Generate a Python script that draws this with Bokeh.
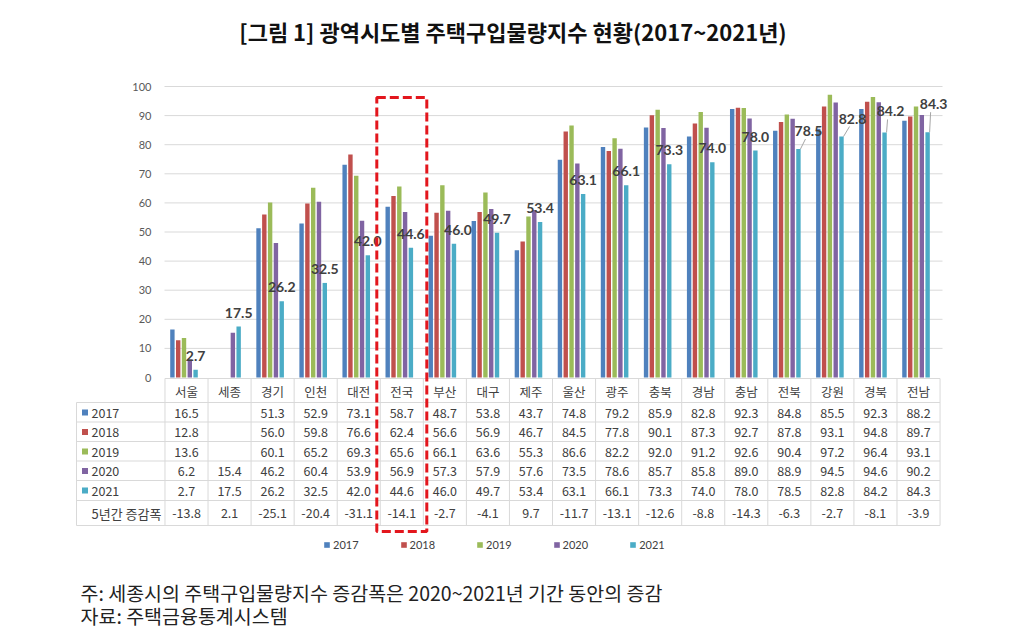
import math
from bokeh.plotting import figure
from bokeh.models import Range1d, Legend, LegendItem, ColumnDataSource
from bokeh.core.properties import value
from bokeh.embed import file_html
from bokeh.resources import INLINE

# ---------------- data ----------------
regions = ["서울", "세종", "경기", "인천", "대전", "전국", "부산", "대구", "제주",
           "울산", "광주", "충북", "경남", "충남", "전북", "강원", "경북", "전남"]
years = ["2017", "2018", "2019", "2020", "2021"]
v2017 = [16.5, None, 51.3, 52.9, 73.1, 58.7, 48.7, 53.8, 43.7, 74.8, 79.2, 85.9, 82.8, 92.3, 84.8, 85.5, 92.3, 88.2]
v2018 = [12.8, None, 56.0, 59.8, 76.6, 62.4, 56.6, 56.9, 46.7, 84.5, 77.8, 90.1, 87.3, 92.7, 87.8, 93.1, 94.8, 89.7]
v2019 = [13.6, None, 60.1, 65.2, 69.3, 65.6, 66.1, 63.6, 55.3, 86.6, 82.2, 92.0, 91.2, 92.6, 90.4, 97.2, 96.4, 93.1]
v2020 = [6.2, 15.4, 46.2, 60.4, 53.9, 56.9, 57.3, 57.9, 57.6, 73.5, 78.6, 85.7, 85.8, 89.0, 88.9, 94.5, 94.6, 90.2]
v2021 = [2.7, 17.5, 26.2, 32.5, 42.0, 44.6, 46.0, 49.7, 53.4, 63.1, 66.1, 73.3, 74.0, 78.0, 78.5, 82.8, 84.2, 84.3]
change_5y = [-13.8, 2.1, -25.1, -20.4, -31.1, -14.1, -2.7, -4.1, 9.7, -11.7, -13.1, -12.6, -8.8, -14.3, -6.3, -2.7, -8.1, -3.9]
change_label = "5년간 증감폭"
highlight = "전국"
y_ticks = [0, 10, 20, 30, 40, 50, 60, 70, 80, 90, 100]
title_text = "[그림 1]  광역시도별 주택구입물량지수 현황(2017~2021년)"
note_lines = ["주: 세종시의 주택구입물량지수 증감폭은 2020~2021년 기간 동안의 증감",
              "자료: 주택금융통계시스템"]
series = [v2017, v2018, v2019, v2020, v2021]

# ---------------- style ----------------
colors = ["#4F81BD", "#C0504D", "#9BBB59", "#8064A2", "#4BACC6"]
KR = value("Noto Sans CJK KR")
LAT = value("Lato")
GRID = "#D9D9D9"
TXT = "#404040"
# label placement offsets (px) relative to the 2021 bar
lbl_dx = [0, 0, 0, 0, 0, 0, 4, 0, 0, 0, 0, 0, 0, 0, 10, 11, 6, 6]
lbl_dy = [14, 14, 14, 14, 14, 14, 14, 14, 14, 14, 14, 14, 14, 14, 18, 18, 21, 28]
leader = [False] * 14 + [True] * 4

W, H = 1024, 644
X0, DXP = 186.0, 43.06      # px of first category, px per category
Y0, DYP = 377.0, 2.91       # px of value 0, px per unit


def xd(px):
    return (px - X0) / DXP


def yd(py):
    return (Y0 - py) / DYP


p = figure(width=W, height=H, x_range=Range1d(xd(0), xd(W)), y_range=Range1d(yd(H), yd(0)),
           output_backend="svg", toolbar_location=None, x_axis_type=None, y_axis_type=None,
           min_border=0)
p.outline_line_color = None
p.background_fill_color = "white"
p.border_fill_color = "white"

n = len(regions)
step = 5.8 / DXP
shift = -2.5 / DXP
bw = 4.4 / DXP

# gridlines
gl = [t for t in y_ticks if t > 0]
p.segment(x0=[xd(164)] * len(gl), x1=[xd(942)] * len(gl), y0=gl, y1=gl, line_color=GRID, line_width=1)

# y tick labels
p.text(x=[xd(151)] * len(y_ticks), y=y_ticks, text=[str(t) for t in y_ticks], text_align="right",
       text_baseline="middle", text_font=LAT, text_font_size="11px", text_color="#595959")

# bars
renderers = []
for k, (yr, vals) in enumerate(zip(years, series)):
    xs = [i + shift + (k - 2) * step for i in range(n)]
    tops = [float("nan") if v is None else v for v in vals]
    src = ColumnDataSource(dict(x=xs, top=tops))
    r = p.vbar(x="x", top="top", bottom=0, width=bw, source=src, fill_color=colors[k],
               line_color=None)
    renderers.append(r)

# 2021 data labels
bx21 = [i + shift + 2 * step for i in range(n)]
lx = [bx21[i] + lbl_dx[i] / DXP for i in range(n)]
ly = [v2021[i] + lbl_dy[i] / DYP for i in range(n)]
p.text(x=lx, y=ly, text=["%.1f" % v for v in v2021], text_align="center", text_baseline="middle",
       text_font=LAT, text_font_style="bold", text_font_size="14px", text_color=TXT)
ld = [i for i in range(n) if leader[i]]
p.segment(x0=[bx21[i] + 2 / DXP for i in ld], y0=[v2021[i] for i in ld],
          x1=[lx[i] - 3 / DXP for i in ld], y1=[ly[i] - 8 / DYP for i in ld],
          line_color="#A6A6A6", line_width=1)

# ---------------- data table ----------------
row_lines = [378, 402, 421.5, 441, 460.5, 480, 500, 525]
col_left = X0 - DXP / 2
col_right = X0 + DXP * (n - 0.5)
p.segment(x0=[xd(col_left)] + [xd(76)] * (len(row_lines) - 1), x1=[xd(col_right)] * len(row_lines),
          y0=[yd(r) for r in row_lines], y1=[yd(r) for r in row_lines], line_color=GRID, line_width=1)
vx = [xd(col_left) + k for k in range(n + 1)]
p.segment(x0=vx, x1=vx, y0=[yd(378)] * len(vx), y1=[yd(525)] * len(vx), line_color=GRID, line_width=1)
p.segment(x0=[xd(76)], x1=[xd(76)], y0=[yd(402)], y1=[yd(525)], line_color=GRID, line_width=1)

# header
p.text(x=list(range(n)), y=[yd(390.5)] * n, text=regions, text_align="center", text_baseline="middle",
       text_font=KR, text_font_size="12.5px", text_color=TXT)
row_centers = [412, 431.5, 451, 470.5, 490]
for k, vals in enumerate(series):
    cy = yd(row_centers[k])
    p.text(x=list(range(n)), y=[cy] * n, text=["" if v is None else "%.1f" % v for v in vals],
           text_align="center", text_baseline="middle", text_font=KR, text_font_size="12.5px",
           text_color=TXT)
    p.rect(x=[xd(84.5)], y=[cy], width=6 / DXP, height=6 / DYP, fill_color=colors[k], line_color=None)
    p.text(x=[xd(91)], y=[cy], text=[years[k]], text_align="left", text_baseline="middle",
           text_font=KR, text_font_size="12.5px", text_color=TXT)
p.text(x=list(range(n)), y=[yd(512.5)] * n, text=["%.1f" % v for v in change_5y], text_align="center",
       text_baseline="middle", text_font=KR, text_font_size="12.5px", text_color=TXT)
p.text(x=[xd(91)], y=[yd(512.5)], text=[change_label], text_align="left", text_baseline="middle",
       text_font=KR, text_font_size="13px", text_color=TXT)

# highlight box
hi = regions.index(highlight)
p.quad(left=[hi - 25 / DXP], right=[hi + 25 / DXP], top=[yd(97)], bottom=[yd(531)],
       fill_alpha=0, line_color="#E3161D", line_width=3, line_dash="9 4")

# legend
legend = Legend(items=[LegendItem(label=yr, renderers=[r]) for yr, r in zip(years, renderers)],
                orientation="horizontal", location=(323, 93), glyph_width=7, glyph_height=7,
                label_standoff=3, spacing=41, padding=0, margin=0, border_line_color=None,
                background_fill_alpha=0, label_text_font="Lato", label_text_font_size="11px",
                label_text_color=TXT, label_height=12)
p.add_layout(legend)

# title and notes
p.text(x=[xd(515)], y=[yd(30)], text=[title_text], text_align="center", text_baseline="middle",
       text_font=KR, text_font_style="bold", text_font_size="22px", text_color="#111111")
p.text(x=[xd(80)] * 2, y=[yd(592), yd(615)], text=note_lines, text_align="left", text_baseline="middle",
       text_font=KR, text_font_size="19.5px", text_color="#222222")

open("out.html", "w").write(file_html(p, INLINE))
